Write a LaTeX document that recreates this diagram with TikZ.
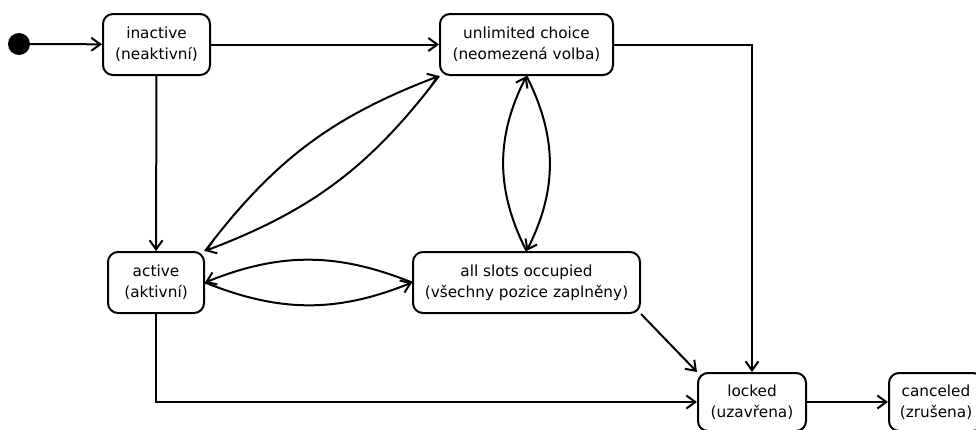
\documentclass[tikz,border=0pt]{standalone}
\usepackage{fontspec}
\setmainfont{DejaVu Sans}
\usetikzlibrary{arrows.meta}
\begin{document}
\begin{tikzpicture}[x=1pt,y=-1pt,
  state/.style={draw, line width=2pt, rounded corners=10pt, align=center,
    inner sep=0pt, font=\fontsize{15.3}{21}\selectfont},
  trans/.style={line width=2pt, -{Straight Barb[length=9pt,width=13pt,line width=2pt]}},
  initial/.style={circle, fill=black, inner sep=0pt, minimum size=22pt}]
\clip (0,0) rectangle (976,429);
\useasboundingbox (0,0) rectangle (976,429);

% states
\node[initial] (init) at (19,44) {};
\node[state, minimum width=107pt, minimum height=61pt] (inactive) at (156.5,44.5)
  {inactive\\(neaktivní)};
\node[state, minimum width=173pt, minimum height=61pt] (unlimited) at (526.5,44.5)
  {unlimited choice\\(neomezená volba)};
\node[state, minimum width=96pt, minimum height=61pt] (active) at (156,282.5)
  {active\\(aktivní)};
\node[state, minimum width=227pt, minimum height=61pt] (slots) at (526.5,282.5)
  {all slots occupied\\(všechny pozice zaplněny)};
\node[state, minimum width=108pt, minimum height=58pt] (locked) at (752,402)
  {locked\\(uzavřena)};
\node[state, minimum width=94pt, minimum height=58pt] (canceled) at (936,402)
  {canceled\\(zrušena)};

% transitions
\draw[trans] (init) -- (inactive);
\draw[trans] (inactive) -- (unlimited);
\draw[trans] (inactive) -- (active);
\draw[trans] (unlimited.east) -| (locked.north);
\draw[trans] (slots.south east) -- (locked.north west);
\draw[trans] (active.south) |- (locked.west);
\draw[trans] (locked) -- (canceled);

\draw[trans] (active.north east) to[bend left=16] (unlimited.south west);
\draw[trans] (unlimited.south west) to[bend left=16] (active.north east);
\draw[trans] (unlimited.south) to[bend left=27] (slots.north);
\draw[trans] (slots.north) to[bend left=27] (unlimited.south);
\draw[trans] (active.east) to[bend right=22] (slots.west);
\draw[trans] (slots.west) to[bend right=22] (active.east);
\end{tikzpicture}
\end{document}
